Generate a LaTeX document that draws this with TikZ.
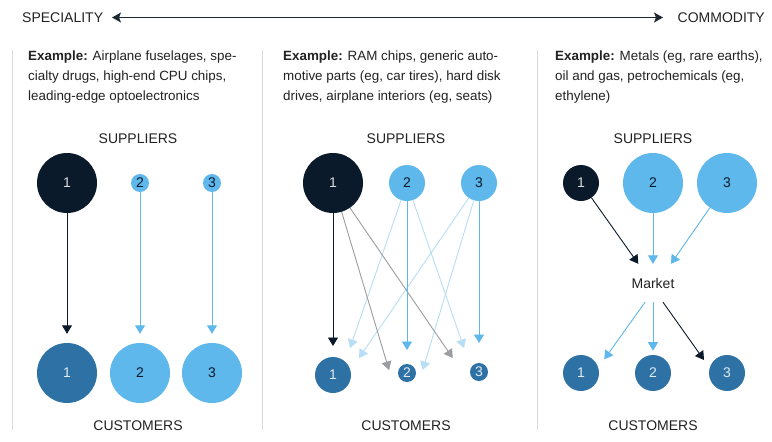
\documentclass[tikz,border=0pt]{standalone}
\usepackage{fontspec}
\setmainfont{Liberation Sans}
\usetikzlibrary{arrows.meta}

\definecolor{navy}{HTML}{0A1A2A}
\definecolor{deepblue}{HTML}{2E72A5}
\definecolor{skyblue}{HTML}{5EB8EB}
\definecolor{paleblue}{HTML}{B8DEF5}
\definecolor{flowgray}{HTML}{9A9DA1}
\definecolor{rulegray}{HTML}{DADADA}
\definecolor{inkdark}{HTML}{1E2832}
\definecolor{txt}{HTML}{222222}

\tikzset{
  lbl/.style={font=\fontsize{14}{16}\selectfont, text=txt, inner sep=0pt},
  para/.style={font=\fontsize{13.4}{20}\selectfont, text=txt, inner sep=0pt,
    align=left, anchor=base west},
  disc/.style={circle, inner sep=0pt, minimum size=#1,
    font=\fontsize{14}{16}\selectfont},
  sup1/.style={disc=#1, fill=navy, text=white!85!navy},
  custdark/.style={disc=#1, fill=deepblue, text=white!85!deepblue},
  light/.style={disc=#1, fill=skyblue, text=navy},
  flow/.style={line width=0.9pt, -{Triangle[width=10pt,length=8.5pt]}},
  flowdark/.style={flow, draw=navy},
  flowblue/.style={flow, draw=skyblue},
  flowpale/.style={flow, draw=paleblue},
  flowgrey/.style={flow, draw=flowgray},
  divider/.style={draw=rulegray, line width=1pt},
}

\begin{document}
\begin{tikzpicture}[x=1pt, y=-1pt]
\useasboundingbox[fill=white] (0,0) rectangle (772,442);

% scale across the top
\node[lbl, anchor=base west] (spec) at (22,22) {SPECIALITY};
\node[lbl, anchor=base east] (comm) at (765,22) {COMMODITY};
\coordinate (la) at (112,17.5);
\coordinate (ra) at (663,17.5);
\draw[draw=inkdark, line width=1pt, {Stealth[width=10pt,length=9pt,inset=2pt]}-{Stealth[width=10pt,length=9pt,inset=2pt]}] (la) -- (ra);

% column dividers
\draw[divider] (12,50) -- (12,430);
\draw[divider] (262.5,50) -- (262.5,430);
\draw[divider] (537,50) -- (537,430);

% example texts (anchored at the baseline of their last line)
\node[para] (ex1) at (28,100) {\textbf{Example:} Airplane fuselages, spe-\\cialty drugs, high-end CPU chips,\\leading-edge optoelectronics};
\node[para] (ex2) at (283,100) {\textbf{Example:} RAM chips, generic auto-\\motive parts (eg, car tires), hard disk\\drives, airplane interiors (eg, seats)};
\node[para] (ex3) at (555,100) {\textbf{Example:} Metals (eg, rare earths),\\oil and gas, petrochemicals (eg,\\ethylene)};

% headings
\node[lbl, anchor=base] (supA) at (138,143) {SUPPLIERS};
\node[lbl, anchor=base] (supB) at (406,143) {SUPPLIERS};
\node[lbl, anchor=base] (supC) at (653,143) {SUPPLIERS};
\node[lbl, anchor=base] (cusA) at (138,430) {CUSTOMERS};
\node[lbl, anchor=base] (cusB) at (406,430) {CUSTOMERS};
\node[lbl, anchor=base] (cusC) at (653,430) {CUSTOMERS};

% ---- speciality: one supplier per customer ----
\node[sup1=60pt] (a1) at (67,183) {1};
\node[light=18pt] (a2) at (140,183) {2};
\node[light=18pt] (a3) at (212,183) {3};
\node[custdark=60pt] (b1) at (67,373) {1};
\node[light=60pt] (b2) at (140,373) {2};
\node[light=60pt] (b3) at (212,373) {3};
\draw[flowdark, shorten >=9pt] (a1) -- (b1);
\draw[flowblue, shorten >=9pt] (a2) -- (b2);
\draw[flowblue, shorten >=9pt] (a3) -- (b3);

% ---- intermediate: crossing supply links ----
\node[sup1=60pt] (s1) at (333,183) {1};
\node[light=36pt] (s2) at (407,183) {2};
\node[light=36pt] (s3) at (479,183) {3};
\node[custdark=36pt] (c1) at (333,375) {1};
\node[custdark=18pt] (c2) at (407,373) {2};
\node[custdark=18pt] (c3) at (479,372) {3};

\coordinate (t11) at (333,346);
\coordinate (t12) at (389,370);
\coordinate (t13) at (452.7,358);
\coordinate (t21) at (350,348);
\coordinate (t22) at (407,350);
\coordinate (t23) at (464,348);
\coordinate (t31) at (359,358);
\coordinate (t32) at (422.7,370);
\coordinate (t33) at (479,343);

\draw[flowpale] (s2) -- (t21);
\draw[flowpale] (s2) -- (t23);
\draw[flowpale] (s3) -- (t31);
\draw[flowpale] (s3) -- (t32);
\draw[flowgrey] (s1) -- (t12);
\draw[flowgrey] (s1) -- (t13);
\draw[flowblue] (s2) -- (t22);
\draw[flowblue] (s3) -- (t33);
\draw[flowdark] (s1) -- (t11);

% ---- commodity: everything goes through the market ----
\node[sup1=36pt] (p1) at (581,183) {1};
\node[light=60pt] (p2) at (653,183) {2};
\node[light=60pt] (p3) at (727,183) {3};
\node[lbl, minimum width=44pt, minimum height=38pt] (mkt) at (653,283) {Market};
\node[custdark=36pt] (q1) at (581,373) {1};
\node[custdark=36pt] (q2) at (653,373) {2};
\node[custdark=36pt] (q3) at (727,373) {3};

\coordinate (u1) at (604.3,359.3);
\coordinate (u2) at (653,350.7);
\coordinate (u3) at (704,360);

\draw[flowdark] (p1) -- ([xshift=-14.7pt]mkt.north);
\draw[flowblue] (p2) -- (mkt.north);
\draw[flowblue] (p3) -- ([xshift=18pt]mkt.north);
\draw[flowblue] ([xshift=-8pt]mkt.south) -- (u1);
\draw[flowblue] (mkt.south) -- (u2);
\draw[flowdark] ([xshift=10pt]mkt.south) -- (u3);
\end{tikzpicture}
\end{document}
